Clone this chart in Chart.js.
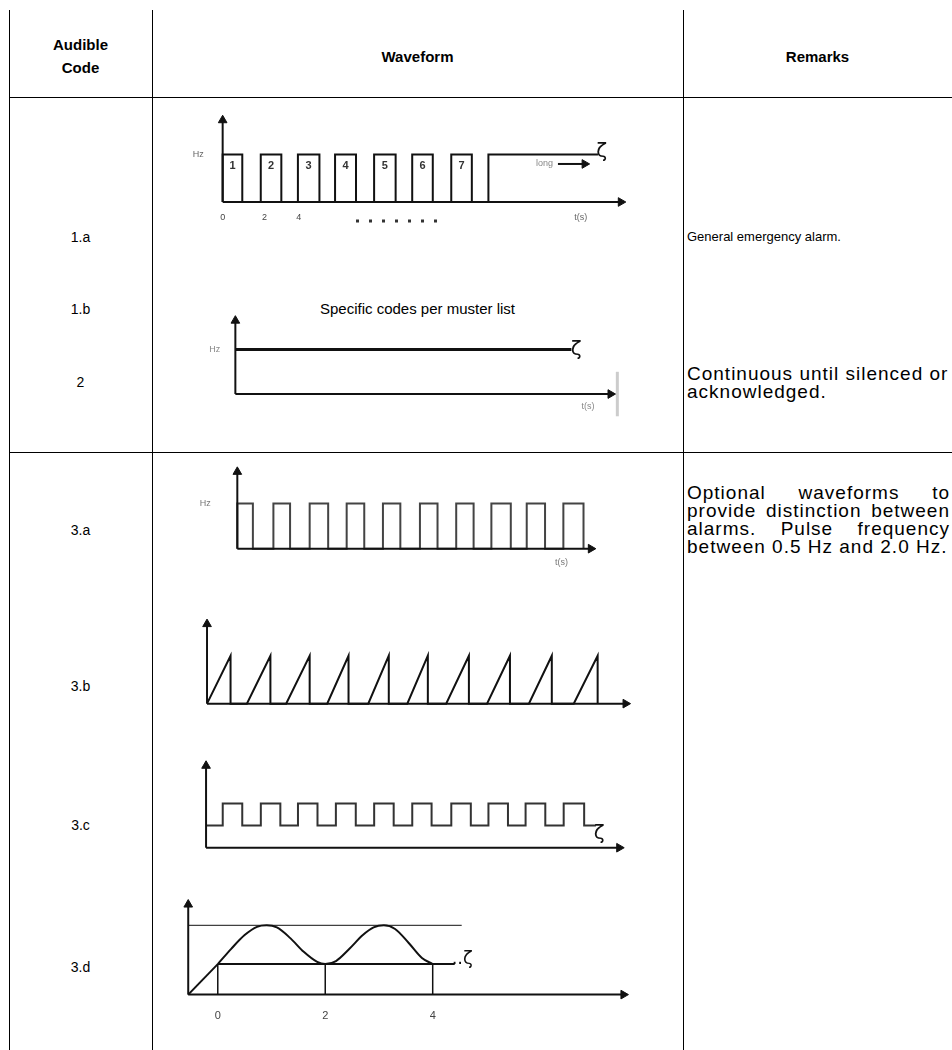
<!DOCTYPE html>
<html>
<head>
<meta charset="utf-8">
<script src="https://cdn.jsdelivr.net/npm/chart.js@4.4.1/dist/chart.umd.min.js"></script>
<style>
  body { margin: 0; background: #fff; font-family: "Liberation Sans", Arial, sans-serif; color: #000; }
  #page { position: relative; width: 952px; height: 1050px; overflow: hidden; background: #fff; }
  .vl { position: absolute; width: 1px; background: #000; }
  .hl { position: absolute; height: 1px; background: #000; }
  .h { position: absolute; font-size: 15px; font-weight: bold; text-align: center; line-height: 23px; }
  .t { position: absolute; font-size: 13px; line-height: 17px; white-space: nowrap; }
  .code { font-size: 14px; line-height: 18px; }
  .big { font-size: 19px; line-height: 18px; letter-spacing: 1px; }
  .c { text-align: center; }
  .j { text-align: justify; text-align-last: justify; width: 263px; }
  canvas { position: absolute; }
</style>
</head>
<body>
<div id="page">
  <div class="vl" style="left:9px; top:10px; height:1040px;"></div>
  <div class="vl" style="left:152px; top:10px; height:1040px;"></div>
  <div class="vl" style="left:683px; top:10px; height:1040px;"></div>
  <div class="hl" style="left:9px; top:97px; width:943px;"></div>
  <div class="hl" style="left:9px; top:452px; width:943px;"></div>

  <div class="h" style="left:9px; width:143px; top:33px;">Audible<br>Code</div>
  <div class="h" style="left:152px; width:531px; top:45px;">Waveform</div>
  <div class="h" style="left:683px; width:269px; top:45px;">Remarks</div>

  <div class="t c code" style="left:9px; width:143px; top:228px;">1.a</div>
  <div class="t c code" style="left:9px; width:143px; top:300px;">1.b</div>
  <div class="t c code" style="left:9px; width:143px; top:373px;">2</div>
  <div class="t c code" style="left:9px; width:143px; top:521px;">3.a</div>
  <div class="t c code" style="left:9px; width:143px; top:677px;">3.b</div>
  <div class="t c code" style="left:9px; width:143px; top:816px;">3.c</div>
  <div class="t c code" style="left:9px; width:143px; top:958px;">3.d</div>

  <div class="t c" style="left:152px; width:531px; top:300px; font-size:15px;">Specific codes per muster list</div>

  <div class="t" style="left:687px; top:228px;">General emergency alarm.</div>
  <div class="t big" style="left:687px; top:365px;">Continuous until silenced or<br>acknowledged.</div>
  <div class="t j big" style="left:687px; top:484px;">Optional waveforms to</div>
  <div class="t j big" style="left:687px; top:502px;">provide distinction between</div>
  <div class="t j big" style="left:687px; top:520px;">alarms. Pulse frequency</div>
  <div class="t big" style="left:687px; top:538px;">between 0.5 Hz and 2.0 Hz.</div>

  <canvas id="w1a"></canvas>
  <canvas id="w2"></canvas>
  <canvas id="w3a"></canvas>
  <canvas id="w3b"></canvas>
  <canvas id="w3c"></canvas>
  <canvas id="w3d"></canvas>
</div>

<script>
// ---- data (time in s, level in arbitrary units) ----

// 1.a : seven short pulses then a long one (edge times / level after edge)
var t1a = [0, 0, 1.03, 2.0, 3.08, 3.95, 5.08, 5.9, 7.0, 7.95, 9.08, 9.95, 11.03, 12.0, 13.08, 13.95, 19.7];
var v1a = [0, 1, 0, 1, 0, 1, 0, 1, 0, 1, 0, 1, 0, 1, 0, 1, 1];
var pulseNames1a = ['1', '2', '3', '4', '5', '6', '7'];
var tickText1a = ['0', '2', '4'];
var tickAt1a = [0, 2.2, 4.0];

// 2 : continuous tone
var t2 = [0, 17.2];
var v2 = [1, 1];

// 3.a : regular pulses
var t3a = [0, 0, 0.85, 1.97, 2.88, 3.95, 4.96, 5.97, 6.93, 7.95, 8.9, 9.97, 10.93, 11.95, 12.9, 13.87, 14.93, 15.8, 16.8, 17.8, 18.9];
var v3a = [0, 1, 0, 1, 0, 1, 0, 1, 0, 1, 0, 1, 0, 1, 0, 1, 0, 1, 0, 1, 0];

// 3.b : sawtooth, ramp start and ramp top times
var rampStart3b = [0, 2.0, 3.97, 6.03, 8.09, 10.05, 12.0, 14.05, 16.15, 18.4];
var rampTop3b = [1.18, 3.18, 5.15, 7.1, 9.12, 11.08, 13.14, 15.2, 17.3, 19.6];

// 3.c : two-level square wave
var t3c = [0, 0.88, 1.91, 2.89, 3.92, 4.85, 5.88, 6.85, 7.9, 8.87, 9.9, 10.88, 11.9, 12.94, 13.97, 14.9, 15.93, 16.86, 17.9, 18.87, 19.95, 20.57];
var v3c = [1, 2, 1, 2, 1, 2, 1, 2, 1, 2, 1, 2, 1, 2, 1, 2, 1, 2, 1, 2, 1, 1];

// 3.d : sweep
var ramp3dT = [-0.55, 0];
var ramp3dV = [0, 1];
var curve3dT = [0, 0.25, 0.5, 0.73, 0.91, 1.1, 1.35, 1.6, 1.85, 2.0, 2.2, 2.45, 2.7, 2.9, 3.09, 3.3, 3.55, 3.8, 4.0];
var curve3dV = [1, 1.5, 1.95, 2.22, 2.27, 2.2, 1.85, 1.4, 1.07, 1.0, 1.1, 1.5, 1.95, 2.2, 2.27, 2.15, 1.7, 1.2, 1.0];
var marks3d = [0, 2, 4];
var tickText3d = ['0', '2', '4'];

// ---- helpers ----
var INK = '#111';

function pts(xs, ys) {
  return xs.map(function (x, i) { return { x: x, y: ys[i] }; });
}

function line(points, opts) {
  return Object.assign({
    data: points, borderColor: INK, borderWidth: 2, pointRadius: 0,
    fill: false, clip: false, tension: 0
  }, opts || {});
}

function arrow(points, rot) {
  return line(points, {
    pointRadius: [0, 5], pointStyle: 'triangle', pointRotation: [0, rot],
    pointBackgroundColor: INK, pointBorderColor: INK, pointBorderWidth: 1
  });
}

function axes(x0, xEnd, yTop) {
  return [
    arrow([{ x: x0, y: 0 }, { x: x0, y: yTop }], 0),
    arrow([{ x: x0, y: 0 }, { x: xEnd, y: 0 }], 90)
  ];
}

// box = [left, top, width, height] on the page, frame = origin pixel and px per unit
function waveChart(id, box, frame, datasets, notes) {
  var cv = document.getElementById(id);
  cv.style.left = box[0] + 'px';
  cv.style.top = box[1] + 'px';
  cv.width = box[2];
  cv.height = box[3];
  var notesPlugin = {
    id: 'notes',
    afterDatasetsDraw: function (chart) {
      var ctx = chart.ctx, xs = chart.scales.x, ys = chart.scales.y;
      notes.forEach(function (n) {
        ctx.save();
        ctx.font = n.font || '9px "Liberation Sans", Arial, sans-serif';
        ctx.fillStyle = n.color || '#666';
        ctx.textAlign = 'center';
        ctx.textBaseline = 'middle';
        ctx.fillText(n.text, xs.getPixelForValue(n.x), ys.getPixelForValue(n.y));
        ctx.restore();
      });
    }
  };
  return new Chart(cv, {
    type: 'line',
    data: { datasets: datasets },
    options: {
      responsive: false,
      animation: false,
      devicePixelRatio: 1,
      layout: { padding: 0 },
      events: [],
      scales: {
        x: { type: 'linear', display: false,
             min: (box[0] - frame.ox) / frame.ux, max: (box[0] + box[2] - frame.ox) / frame.ux },
        y: { type: 'linear', display: false,
             min: (frame.oy - box[1] - box[3]) / frame.uy, max: (frame.oy - box[1]) / frame.uy }
      },
      plugins: { legend: { display: false }, tooltip: { enabled: false } }
    },
    plugins: [notesPlugin]
  });
}

var bold = 'bold 11px "Liberation Sans", Arial, sans-serif';
var small = '9px "Liberation Sans", Arial, sans-serif';
var squig = '20px "DejaVu Sans", sans-serif';

// 1.a
var notes1a = pulseNames1a.map(function (s, i) {
  return { text: s, x: (t1a[2 * i + 1] + t1a[2 * i + 2]) / 2, y: 0.75, font: bold, color: '#333' };
});
tickText1a.forEach(function (s, i) { notes1a.push({ text: s, x: tickAt1a[i], y: -0.33, font: small, color: '#444' }); });
notes1a.push({ text: 'Hz', x: -1.28, y: 1.0, font: small });
notes1a.push({ text: 't(s)', x: 18.8, y: -0.33, font: small });
notes1a.push({ text: 'long', x: 16.9, y: 0.8, font: small, color: '#888' });
notes1a.push({ text: 'ζ', x: 19.9, y: 1.05, font: squig, color: INK });
waveChart('w1a', [160, 100, 520, 140], { ox: 218, oy: 205, ux: 19.5, uy: 52 },
  axes(0, 20.9, 1.72).concat([
    line(pts(t1a, v1a), { stepped: true }),
    arrow([{ x: 17.6, y: 0.8 }, { x: 19.0, y: 0.8 }], 90),
    line([{ x: 7.0, y: -0.4 }, { x: 11.5, y: -0.4 }], { borderWidth: 3, borderDash: [3, 10], borderColor: '#333' })
  ]), notes1a);

// 2
waveChart('w2', [160, 300, 520, 130], { ox: 231, oy: 397, ux: 20, uy: 49 },
  axes(0, 19.2, 1.65).concat([
    line(pts(t2, v2), { borderWidth: 3 }),
    line([{ x: 19.55, y: -0.5 }, { x: 19.55, y: 0.5 }], { borderWidth: 3, borderColor: '#ccc' })
  ]),
  [{ text: 'Hz', x: -1.05, y: 1.0, font: small, color: '#888' },
   { text: 't(s)', x: 18.05, y: -0.27, font: small, color: '#888' },
   { text: 'ζ', x: 17.45, y: 1.0, font: squig, color: INK }]);

// 3.a
waveChart('w3a', [160, 455, 520, 125], { ox: 233, oy: 552, ux: 18.75, uy: 50 },
  axes(0, 19.3, 1.7).concat([
    line(pts(t3a, v3a), { stepped: true, borderColor: '#444' })
  ]),
  [{ text: 'Hz', x: -1.75, y: 1.0, font: small, color: '#777' },
   { text: 't(s)', x: 17.7, y: -0.3, font: small, color: '#777' }]);

// 3.b
var saw3b = [];
rampStart3b.forEach(function (s, i) {
  saw3b.push({ x: s, y: 0 }, { x: rampTop3b[i], y: 1 }, { x: rampTop3b[i], y: 0 });
});
waveChart('w3b', [160, 600, 520, 125], { ox: 202, oy: 708, ux: 20.4, uy: 53 },
  axes(0, 21.0, 1.66).concat([line(saw3b)]), []);

// 3.c
waveChart('w3c', [160, 745, 520, 125], { ox: 201, oy: 852, ux: 19.4, uy: 24.5 },
  axes(0, 21.8, 3.7).concat([
    line(pts(t3c, v3c), { stepped: true, borderColor: '#333' })
  ]),
  [{ text: 'ζ', x: 20.75, y: 0.65, font: squig, color: INK }]);

// 3.d
var vert3d = marks3d.map(function (m) {
  return line([{ x: m, y: 0 }, { x: m, y: 1 }], { borderWidth: 1.5 });
});
var notes3d = tickText3d.map(function (s, i) {
  return { text: s, x: marks3d[i], y: -0.7, font: '11px "Liberation Sans", Arial, sans-serif', color: '#444' };
});
notes3d.push({ text: '..ζ', x: 4.55, y: 1.15, font: '18px "DejaVu Sans", sans-serif', color: INK });
waveChart('w3d', [160, 885, 520, 160], { ox: 213, oy: 997, ux: 55, uy: 33 },
  axes(-0.55, 7.55, 2.95).concat([
    line([{ x: -0.55, y: 2.27 }, { x: 4.54, y: 2.27 }], { borderWidth: 1 }),
    line([{ x: 0, y: 1 }, { x: 4.41, y: 1 }], { borderWidth: 2 }),
    line(pts(ramp3dT, ramp3dV)),
    line(pts(curve3dT, curve3dV), { cubicInterpolationMode: 'monotone' })
  ]).concat(vert3d), notes3d);
</script>
</body>
</html>
